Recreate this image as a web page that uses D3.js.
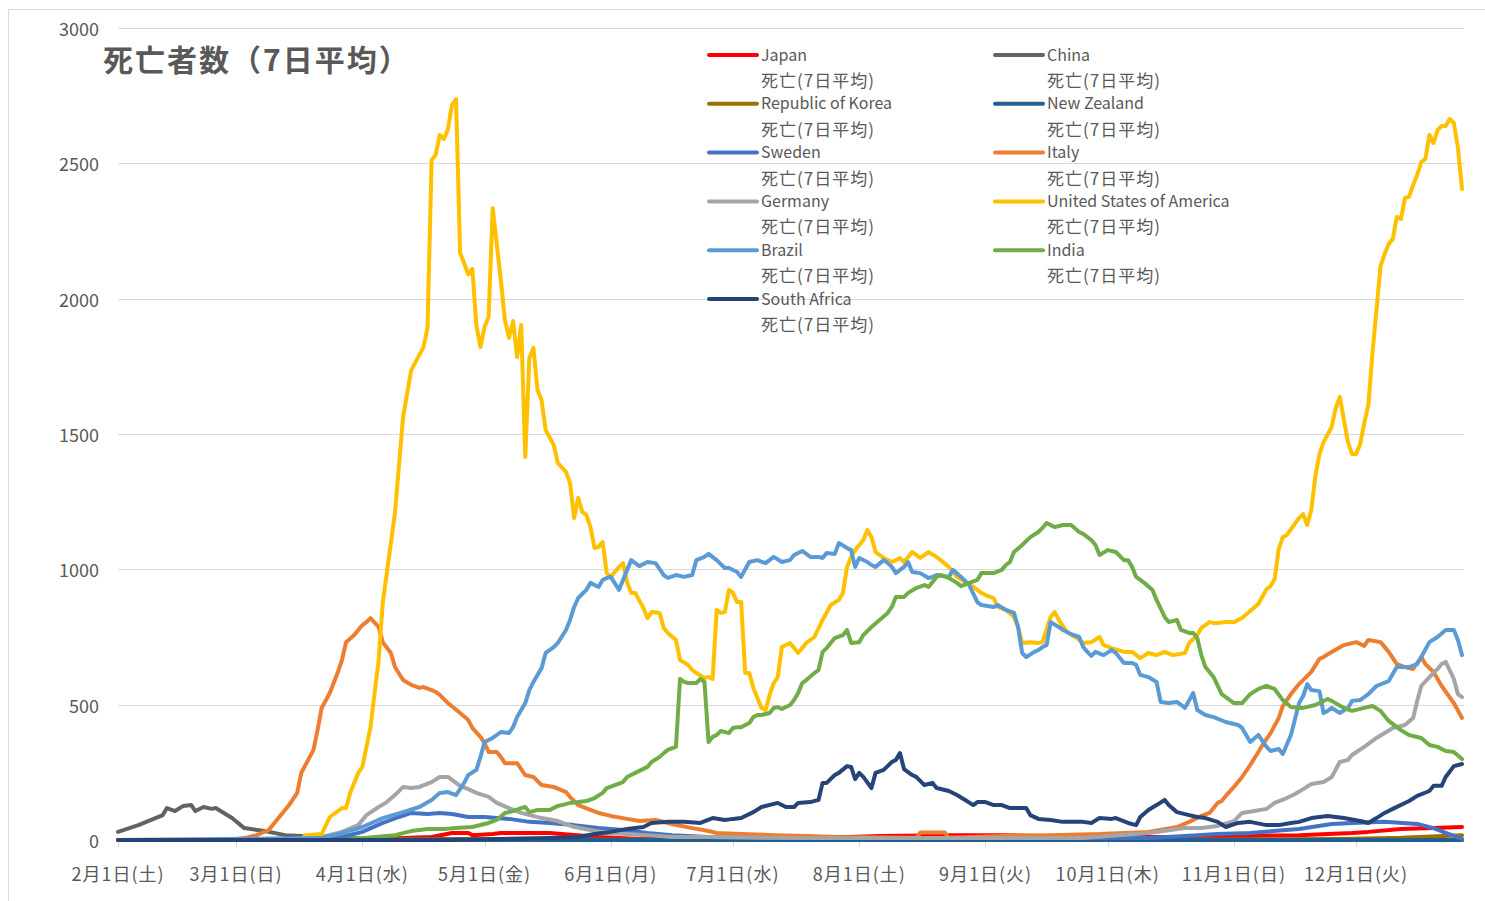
<!DOCTYPE html>
<html>
<head>
<meta charset="utf-8">
<script src="https://cdn.jsdelivr.net/npm/d3@7"></script>
<style>
  body { margin: 0; background: #fff; }
  text { font-family: "Noto Sans CJK JP", "Noto Sans", sans-serif; fill: #595959; }
</style>
</head>
<body>
<div id="chart"></div>
<script>
// day offsets counted from 2020-02-01, values = deaths (7-day average)
var japan = [[0,0],[40,1],[60,2],[77,11],[82,26],[86,26],[87,18],[92,22],[94,26],[106,26],[118,11],[128,4],[155,4],[172,7],[187,15],[204,18],[217,18],[241,11],[266,11],[278,15],[290,18],[303,26],[307,30],[315,41],[323,44],[330,48]];
var china = [[0,30],[5,55],[11,92],[12,118],[14,107],[16,126],[18,129],[19,107],[21,122],[23,115],[24,118],[28,81],[31,44],[36,33],[41,18],[45,15],[53,7],[69,4],[120,1],[330,0]];
var korea = [[0,0],[28,0],[32,2],[40,5],[60,5],[80,2],[120,1],[200,1],[270,2],[300,4],[315,8],[330,18]];
var newZealand = [[0,0],[60,0],[75,1],[95,0],[330,0]];
var sweden = [[0,0],[52,0],[55,11],[60,30],[65,63],[69,85],[72,100],[76,96],[79,100],[82,96],[86,85],[90,85],[96,78],[101,67],[106,63],[112,55],[118,44],[124,37],[130,26],[136,18],[145,11],[167,7],[253,7],[262,15],[270,22],[278,26],[290,41],[298,59],[303,63],[311,67],[319,59],[323,44],[326,26],[330,4]];
var italy = [[0,0],[27,0],[31,7],[34,18],[37,37],[39,74],[42,129],[44,174],[45,248],[48,333],[49,406],[50,488],[52,543],[54,621],[55,665],[56,731],[58,757],[60,794],[61,805],[62,820],[64,787],[65,731],[67,691],[68,639],[70,591],[72,573],[74,562],[75,565],[77,554],[78,547],[79,536],[81,506],[84,469],[86,443],[87,414],[89,381],[90,358],[91,325],[93,325],[94,307],[95,284],[98,284],[100,240],[102,233],[104,203],[107,196],[110,177],[111,159],[113,129],[116,111],[118,100],[121,89],[125,78],[128,70],[132,74],[136,59],[141,44],[145,33],[147,26],[153,22],[161,18],[169,15],[177,11],[196,8],[197,28],[203,28],[204,8],[217,15],[229,18],[241,22],[253,30],[260,48],[263,67],[266,89],[268,100],[270,137],[271,144],[272,163],[274,196],[276,233],[278,277],[280,325],[281,351],[283,395],[285,451],[286,495],[288,539],[290,576],[293,621],[295,669],[296,676],[298,695],[301,720],[304,731],[306,717],[307,739],[310,731],[312,695],[314,650],[316,639],[318,632],[320,676],[321,650],[323,621],[325,569],[328,506],[330,451]];
var germany = [[0,0],[45,0],[50,11],[55,30],[59,55],[61,92],[64,122],[66,140],[68,166],[70,196],[72,192],[74,196],[77,214],[79,233],[81,233],[82,222],[84,200],[86,188],[88,174],[91,159],[93,137],[96,118],[99,100],[104,81],[108,70],[112,48],[116,37],[120,26],[125,22],[130,18],[136,11],[145,11],[167,7],[237,7],[253,26],[262,44],[266,44],[270,52],[274,70],[276,100],[279,107],[282,115],[284,137],[287,155],[289,170],[291,188],[293,207],[296,214],[298,233],[300,288],[302,296],[303,314],[306,344],[309,377],[311,395],[313,414],[316,425],[318,451],[319,514],[320,569],[322,602],[324,632],[325,650],[326,658],[328,595],[329,539],[330,528]];
var usa = [[0,0],[45,0],[46,18],[50,22],[52,85],[55,118],[56,118],[57,174],[59,248],[60,270],[62,417],[64,665],[65,876],[68,1208],[70,1563],[72,1736],[75,1821],[76,1892],[77,2512],[78,2531],[79,2605],[80,2590],[81,2625],[82,2715],[83,2737],[84,2170],[85,2130],[86,2090],[87,2110],[88,1900],[89,1821],[90,1895],[91,1932],[92,2335],[94,2069],[95,1921],[96,1855],[97,1917],[98,1784],[99,1903],[100,1415],[101,1781],[102,1818],[103,1663],[104,1626],[105,1515],[107,1459],[108,1393],[110,1359],[111,1319],[112,1189],[113,1264],[114,1212],[115,1201],[116,1156],[117,1079],[118,1083],[119,1101],[120,986],[121,972],[123,1009],[124,1023],[125,953],[126,913],[127,913],[129,857],[130,820],[131,842],[133,839],[134,783],[135,765],[137,739],[138,665],[140,647],[141,628],[142,617],[144,599],[145,602],[146,595],[147,850],[148,839],[149,842],[150,924],[151,913],[152,879],[153,879],[154,617],[155,617],[156,562],[158,488],[159,480],[160,536],[161,580],[162,602],[163,713],[165,728],[167,691],[169,728],[171,750],[173,813],[175,868],[177,887],[178,913],[179,1009],[180,1046],[181,1071],[183,1108],[184,1145],[185,1119],[186,1064],[188,1042],[190,1027],[191,1034],[192,1042],[193,1027],[195,1064],[197,1042],[199,1064],[201,1046],[204,1009],[206,972],[208,953],[210,935],[212,913],[213,905],[215,894],[216,861],[218,850],[220,824],[221,787],[222,728],[224,731],[226,728],[227,731],[229,824],[230,842],[231,813],[233,768],[235,750],[237,728],[239,731],[241,750],[242,720],[244,709],[247,695],[249,695],[251,672],[253,691],[255,683],[257,695],[259,683],[262,691],[263,728],[265,757],[266,783],[268,805],[269,802],[270,802],[272,805],[274,805],[276,820],[278,846],[280,872],[282,927],[283,938],[284,964],[285,1075],[286,1119],[287,1127],[290,1190],[291,1204],[292,1164],[293,1219],[294,1345],[295,1426],[296,1470],[298,1526],[299,1596],[300,1637],[301,1552],[302,1470],[303,1426],[304,1426],[305,1463],[306,1540],[307,1607],[308,1796],[309,1958],[310,2121],[311,2165],[312,2202],[313,2220],[314,2302],[315,2294],[316,2372],[317,2376],[318,2420],[319,2457],[320,2505],[321,2516],[322,2605],[323,2575],[324,2623],[325,2638],[326,2638],[327,2664],[328,2649],[329,2557],[330,2405]];
var brazil = [[0,0],[50,7],[55,26],[60,48],[65,81],[70,103],[74,122],[77,148],[79,174],[81,177],[83,166],[85,211],[86,240],[88,259],[89,307],[90,362],[92,377],[94,399],[96,395],[97,417],[98,454],[100,506],[101,554],[102,584],[104,635],[105,691],[107,713],[108,728],[110,776],[111,813],[112,861],[113,894],[115,924],[116,950],[118,935],[119,961],[120,968],[121,972],[123,924],[124,961],[126,1034],[128,1012],[130,1027],[132,1023],[134,979],[135,968],[137,979],[139,972],[141,979],[142,1034],[144,1046],[145,1057],[147,1034],[149,1005],[150,1005],[152,990],[153,972],[155,1027],[157,1034],[159,1023],[161,1046],[163,1027],[165,1034],[166,1053],[168,1068],[170,1046],[172,1046],[173,1042],[174,1060],[176,1057],[177,1097],[179,1079],[180,1071],[181,1009],[182,1042],[184,1027],[185,1016],[186,1009],[188,1034],[189,1023],[190,1009],[191,986],[193,1009],[194,1027],[195,990],[197,986],[199,968],[200,972],[201,979],[204,972],[205,998],[207,972],[209,942],[211,879],[212,868],[215,861],[216,868],[218,850],[220,839],[221,787],[222,691],[223,676],[225,695],[226,702],[227,713],[228,720],[229,805],[231,787],[232,776],[234,761],[236,750],[237,713],[238,695],[239,680],[240,695],[242,683],[244,702],[245,691],[247,654],[249,654],[250,647],[251,610],[253,602],[255,584],[256,510],[258,506],[260,510],[262,488],[264,543],[265,480],[267,462],[269,454],[272,436],[275,425],[276,414],[278,362],[280,388],[282,344],[283,329],[285,336],[286,318],[288,388],[290,506],[291,532],[292,576],[293,554],[295,550],[296,469],[297,477],[298,488],[300,469],[302,488],[303,514],[305,517],[307,539],[309,569],[312,587],[314,639],[317,639],[319,650],[320,676],[322,731],[324,750],[326,776],[328,776],[329,739],[330,683]];
var india = [[0,0],[55,0],[68,18],[72,33],[76,41],[80,41],[83,44],[87,48],[91,63],[93,74],[95,100],[97,107],[99,118],[100,122],[101,103],[103,111],[106,111],[108,126],[109,129],[111,137],[113,140],[115,144],[117,155],[119,174],[120,192],[122,203],[124,214],[125,233],[127,248],[130,270],[131,288],[133,307],[134,321],[135,333],[137,344],[138,595],[139,584],[140,580],[142,580],[143,595],[144,584],[145,362],[146,381],[147,388],[148,403],[150,395],[151,414],[152,417],[153,417],[155,432],[156,454],[157,462],[158,462],[160,469],[161,488],[162,491],[163,484],[165,499],[166,517],[167,543],[168,580],[169,591],[171,617],[172,628],[173,695],[174,709],[176,746],[178,757],[179,776],[180,728],[182,731],[183,757],[185,787],[187,813],[189,839],[190,861],[191,898],[193,898],[194,913],[196,931],[198,942],[199,935],[201,972],[202,979],[204,968],[206,950],[207,938],[209,950],[211,961],[212,986],[215,986],[217,998],[218,1016],[219,1027],[220,1064],[222,1090],[224,1119],[226,1138],[227,1153],[228,1171],[230,1156],[232,1164],[234,1164],[236,1138],[237,1131],[239,1108],[240,1090],[241,1053],[243,1071],[245,1064],[247,1034],[248,1034],[249,1009],[250,972],[252,950],[254,924],[255,887],[257,824],[258,805],[260,813],[261,776],[263,765],[264,765],[265,746],[266,683],[267,639],[269,602],[271,539],[274,506],[276,506],[278,539],[280,558],[282,569],[284,558],[286,517],[288,491],[291,488],[294,499],[297,521],[298,514],[301,488],[303,477],[306,488],[308,495],[310,477],[312,440],[315,406],[317,388],[320,377],[322,351],[324,344],[326,329],[328,325],[330,299]];
var southAfrica = [[0,0],[82,0],[94,4],[106,7],[113,11],[117,22],[121,30],[125,41],[129,48],[131,63],[135,67],[139,67],[143,63],[146,81],[149,74],[151,78],[153,81],[156,103],[158,122],[162,137],[164,122],[166,122],[167,137],[170,140],[172,148],[173,211],[174,211],[176,240],[177,248],[179,273],[180,270],[181,225],[182,248],[183,233],[185,192],[186,248],[188,259],[190,288],[191,296],[192,321],[193,262],[195,240],[196,233],[198,203],[200,211],[201,192],[204,181],[206,166],[208,148],[210,129],[211,140],[213,140],[215,129],[217,129],[219,118],[221,118],[223,118],[224,92],[226,78],[229,74],[232,67],[237,67],[239,63],[241,81],[244,78],[245,81],[248,63],[250,55],[251,85],[253,111],[255,129],[257,148],[258,129],[260,103],[263,92],[265,85],[267,81],[270,67],[272,48],[275,63],[278,67],[282,55],[285,55],[288,63],[290,67],[293,81],[297,89],[301,81],[305,70],[307,63],[309,81],[311,100],[313,115],[317,144],[319,163],[322,181],[323,200],[325,200],[326,233],[328,273],[330,281]];

var seriesNames = ['Japan', 'China', 'Republic of Korea', 'New Zealand', 'Sweden', 'Italy',
                   'Germany', 'United States of America', 'Brazil', 'India', 'South Africa'];
var seriesValues = [japan, china, korea, newZealand, sweden, italy, germany, usa, brazil, india, southAfrica];
var seriesColors = ['#ff0000', '#636363', '#997300', '#255e91', '#4472c4', '#ed7d31',
                    '#a5a5a5', '#ffc000', '#5b9bd5', '#70ad47', '#264478'];
var legendSubLabel = '死亡(7日平均)';

var yTicks = [0, 500, 1000, 1500, 2000, 2500, 3000];
var xTickLabels = ['2月1日(土)', '3月1日(日)', '4月1日(水)', '5月1日(金)', '6月1日(月)', '7月1日(水)',
                   '8月1日(土)', '9月1日(火)', '10月1日(木)', '11月1日(日)', '12月1日(火)'];
var title = '死亡者数（7日平均）';

document.addEventListener("DOMContentLoaded", function() {
  var width = 1485,
      height = 901,
      chart = d3.select('#chart').append('svg')
                .attr('width', width)
                .attr('height', height);

  chart.append('rect')
    .attr('x', 8.5).attr('y', 9.5)
    .attr('width', 1500).attr('height', 900)
    .attr('fill', '#fff')
    .attr('stroke', '#d9d9d9');

  var start = new Date(2020, 1, 1);
  var day = function(n) { return d3.timeDay.offset(start, n); };

  var x_scale = d3.scaleTime()
    .domain([start, day(330)])
    .range([118, 1462]);

  var y_scale = d3.scaleLinear()
    .domain([0, 3000])
    .range([840, 28]);

  // horizontal gridlines
  chart.append('g').selectAll('line')
    .data(yTicks)
    .enter().append('line')
    .attr('x1', 118)
    .attr('x2', 1464)
    .attr('y1', function(d) { return Math.round(y_scale(d)) + 0.5; })
    .attr('y2', function(d) { return Math.round(y_scale(d)) + 0.5; })
    .attr('stroke', '#d9d9d9')
    .attr('stroke-width', 1);

  chart.append('g').selectAll('text')
    .data(yTicks)
    .enter().append('text')
    .attr('x', 99)
    .attr('y', function(d) { return y_scale(d); })
    .attr('text-anchor', 'end')
    .attr('dominant-baseline', 'central')
    .style('font-size', '18px')
    .text(function(d) { return d; });

  // month ticks + labels
  var months = d3.timeMonth.range(start, day(331));
  chart.append('g').selectAll('line')
    .data(months)
    .enter().append('line')
    .attr('x1', function(d) { return Math.round(x_scale(d)) + 0.5; })
    .attr('x2', function(d) { return Math.round(x_scale(d)) + 0.5; })
    .attr('y1', 840)
    .attr('y2', 847)
    .attr('stroke', '#d9d9d9');

  chart.append('g').selectAll('text')
    .data(months)
    .enter().append('text')
    .attr('x', function(d) { return x_scale(d); })
    .attr('y', 873)
    .attr('text-anchor', 'middle')
    .attr('dominant-baseline', 'central')
    .style('font-size', '18px')
    .style('letter-spacing', '1px')
    .text(function(d, i) { return xTickLabels[i]; });

  // series lines
  var line = d3.line()
    .x(function(d) { return x_scale(day(d[0])); })
    .y(function(d) { return y_scale(d[1]); });

  chart.append('g').selectAll('path')
    .data(seriesValues)
    .enter().append('path')
    .attr('d', line)
    .attr('fill', 'none')
    .attr('stroke', function(d, i) { return seriesColors[i]; })
    .attr('stroke-width', 4)
    .attr('stroke-linejoin', 'round')
    .attr('stroke-linecap', 'round');

  // title
  chart.append('text')
    .attr('x', 103)
    .attr('y', 58)
    .attr('dominant-baseline', 'central')
    .style('font-size', '30px')
    .style('font-weight', 'bold')
    .style('letter-spacing', '2px')
    .text(title);

  // legend
  var legend = chart.append('g').selectAll('g')
    .data(seriesNames)
    .enter().append('g')
    .attr('transform', function(d, i) {
      return 'translate(' + (i % 2 ? 995 : 709) + ',' + (53.5 + Math.floor(i / 2) * 48.8) + ')';
    });

  legend.append('line')
    .attr('x1', 0).attr('x2', 48)
    .attr('y1', 1.5).attr('y2', 1.5)
    .attr('stroke', function(d, i) { return seriesColors[i]; })
    .attr('stroke-width', 4)
    .attr('stroke-linecap', 'round');

  legend.append('text')
    .attr('x', 52)
    .attr('y', 0)
    .attr('dominant-baseline', 'central')
    .style('font-size', '16px')
    .text(function(d) { return d; });

  legend.append('text')
    .attr('x', 52)
    .attr('y', 26)
    .attr('dominant-baseline', 'central')
    .style('font-size', '17px')
    .style('letter-spacing', '1px')
    .text(legendSubLabel);
});
</script>
</body>
</html>
